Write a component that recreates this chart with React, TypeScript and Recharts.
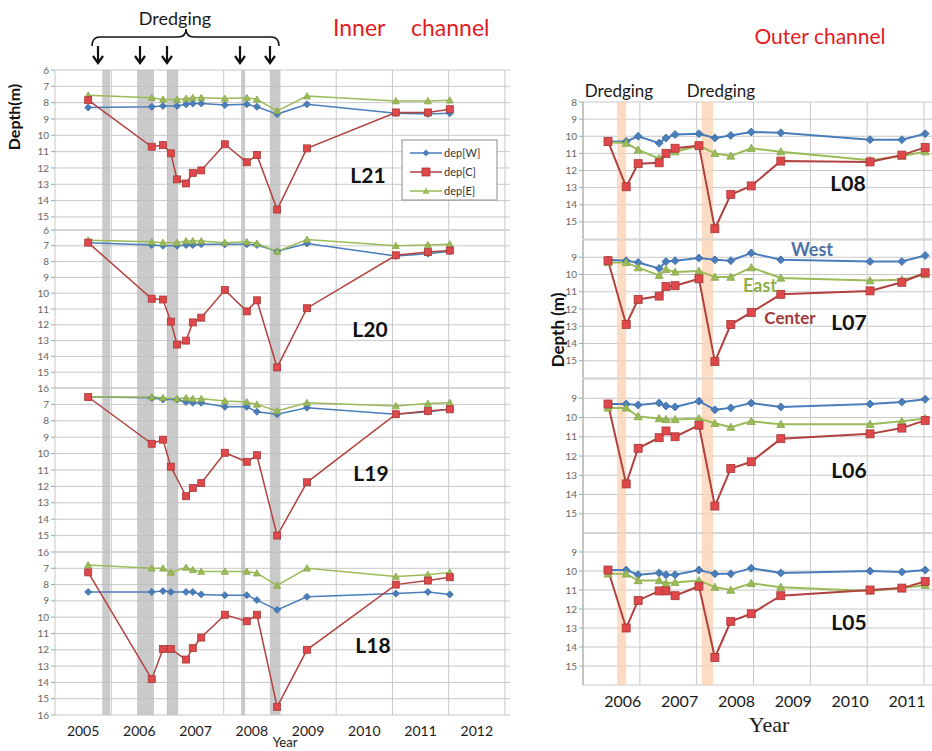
import {
  LineChart,
  Line,
  XAxis,
  YAxis,
  CartesianGrid,
  ReferenceArea,
} from "recharts";

// ---------------------------------------------------------------------------
// Survey dates (decimal years) and depths (m) per cross-section line
// ---------------------------------------------------------------------------
const innerDates = [
  2005.09, 2006.22, 2006.42, 2006.56, 2006.67, 2006.83, 2006.95, 2007.1,
  2007.52, 2007.91, 2008.09, 2008.45, 2008.98, 2010.56, 2011.13, 2011.52,
];

const l21W = [8.3, 8.25, 8.2, null, 8.2, 8.1, 8.05, 8.05, 8.15, 8.1, 8.25, 8.7, 8.1, 8.65, 8.7, 8.65];
const l21C = [7.85, 10.7, 10.6, 11.1, 12.7, 12.95, 12.3, 12.15, 10.55, 11.65, 11.2, 14.55, 10.8, 8.6, 8.6, 8.4];
const l21E = [7.55, 7.7, 7.8, null, 7.8, 7.75, 7.7, 7.7, 7.75, 7.7, 7.8, 8.5, 7.6, 7.9, 7.9, 7.85];

const l20W = [6.8, 6.95, 7.0, null, 7.0, 6.95, 6.95, 6.9, 6.9, 6.9, 6.95, 7.35, 6.85, 7.65, 7.5, 7.35];
const l20C = [6.8, 10.35, 10.4, 11.8, 13.25, 13.0, 11.85, 11.55, 9.8, 11.15, 10.45, 14.7, 10.95, 7.6, 7.4, 7.3];
const l20E = [6.65, 6.75, 6.8, null, 6.8, 6.7, 6.7, 6.7, 6.8, 6.75, 6.85, 7.35, 6.6, 7.0, 6.95, 6.9];

const l19W = [6.55, 6.6, 6.7, null, 6.7, 6.85, 6.9, 6.9, 7.15, 7.15, 7.45, 7.6, 7.2, 7.6, 7.45, 7.3];
const l19C = [6.55, 9.4, 9.15, 10.8, null, 12.6, 12.1, 11.8, 9.95, 10.5, 10.1, 15.0, 11.75, 7.6, 7.4, 7.3];
const l19E = [6.55, 6.55, 6.6, null, 6.65, 6.6, 6.65, 6.65, 6.8, 6.85, 7.0, 7.4, 6.9, 7.1, 6.95, 6.9];

const l18W = [8.45, 8.45, 8.4, 8.45, null, 8.45, 8.45, 8.6, 8.65, 8.65, 8.95, 9.55, 8.75, 8.55, 8.45, 8.6];
const l18C = [7.25, 13.8, 11.95, 11.95, null, 12.6, 11.9, 11.25, 9.85, 10.25, 9.85, 15.5, 12.0, 8.0, 7.75, 7.55];
const l18E = [6.8, 7.0, 7.0, 7.25, null, 6.95, 7.1, 7.2, 7.2, 7.2, 7.3, 8.05, 7.0, 7.5, 7.4, 7.25];

const outerDates = [
  2005.74, 2006.06, 2006.27, 2006.64, 2006.76, 2006.92, 2007.34,
  2007.62, 2007.9, 2008.26, 2008.78, 2010.35, 2010.91, 2011.32,
];

const l08W = [10.3, 10.3, 10.0, 10.4, 10.1, 9.9, 9.85, 10.1, 9.95, 9.75, 9.8, 10.2, 10.2, 9.85];
const l08C = [10.3, 12.95, 11.6, 11.55, 11.0, 10.7, 10.55, 15.4, 13.4, 12.9, 11.45, 11.5, 11.1, 10.65];
const l08E = [10.35, 10.4, 10.8, 11.3, 11.0, 10.9, 10.55, 11.0, 11.15, 10.7, 10.9, 11.4, 11.15, 10.9];

const l07W = [9.15, 9.2, 9.3, 9.65, 9.25, 9.2, 9.05, 9.15, 9.2, 8.75, 9.15, 9.25, 9.25, 8.9];
const l07C = [9.2, 12.9, 11.45, 11.25, 10.7, 10.65, 10.25, 15.05, 12.9, 12.2, 11.15, 10.95, 10.45, 9.9];
const l07E = [9.3, 9.3, 9.6, 10.05, 9.7, 9.85, 9.8, 10.15, 10.15, 9.6, 10.2, 10.35, 10.3, 10.0];

const l06W = [9.3, 9.3, 9.35, 9.25, 9.4, 9.45, 9.15, 9.6, 9.5, 9.25, 9.45, 9.3, 9.2, 9.05];
const l06C = [9.3, 13.45, 11.6, 11.05, 10.7, 11.0, 10.4, 14.6, 12.65, 12.3, 11.1, 10.85, 10.55, 10.15];
const l06E = [9.5, 9.5, 9.95, 10.05, 10.1, 10.1, 10.05, 10.3, 10.5, 10.2, 10.35, 10.35, 10.2, 10.05];

const l05W = [9.95, 9.95, 10.2, 10.1, 10.2, 10.2, 9.95, 10.15, 10.15, 9.85, 10.1, 10.0, 10.05, 9.95];
const l05C = [9.95, 13.0, 11.55, 11.05, 11.05, 11.3, 10.8, 14.55, 12.65, 12.25, 11.3, 11.0, 10.9, 10.55];
const l05E = [10.15, 10.15, 10.5, 10.5, 10.65, 10.6, 10.5, 10.85, 11.0, 10.65, 10.85, 11.05, 10.9, 10.75];

// dredging periods [start, end]
const innerDredging = [
  [2005.34, 2005.48],
  [2005.96, 2006.26],
  [2006.49, 2006.69],
  [2007.81, 2007.88],
  [2008.32, 2008.5],
];
const outerDredging = [
  [2005.9, 2006.06],
  [2007.39, 2007.59],
];

// axis ticks
const innerYears = [2005, 2006, 2007, 2008, 2009, 2010, 2011, 2012];
const outerYears = [2006, 2007, 2008, 2009, 2010, 2011];

// ---------------------------------------------------------------------------
// Colours / fonts
// ---------------------------------------------------------------------------
const BLUE = "#4a7ebb";
const RED_LINE = "#b0413e";
const RED_FILL = "#e0474a";
const GREEN = "#9bbb59";
const SANS = "Lato, 'Open Sans', sans-serif";

const buildRows = (dates: number[], w: (number | null)[], c: (number | null)[], e: (number | null)[]) =>
  dates.map((t, i) => ({ t, w: w[i], c: c[i], e: e[i] }));

// ---------------------------------------------------------------------------
// Markers
// ---------------------------------------------------------------------------
type Shape = "diamond" | "square" | "triangle";

function makeDot(shape: Shape, fill: string, stroke: string, r: number) {
  return (props: any) => {
    const { cx, cy, index, value } = props;
    const key = `dot-${shape}-${index}`;
    if (value == null || cx == null || cy == null || Number.isNaN(cy)) return <g key={key} />;
    if (shape === "diamond") {
      return (
        <path
          key={key}
          d={`M${cx},${cy - r} L${cx + r},${cy} L${cx},${cy + r} L${cx - r},${cy} Z`}
          fill={fill}
          stroke={stroke}
          strokeWidth={0.8}
        />
      );
    }
    if (shape === "square") {
      return (
        <rect
          key={key}
          x={cx - r}
          y={cy - r}
          width={r * 2}
          height={r * 2}
          fill={fill}
          stroke={stroke}
          strokeWidth={0.8}
        />
      );
    }
    return (
      <path
        key={key}
        d={`M${cx},${cy - r} L${cx + r},${cy + r * 0.8} L${cx - r},${cy + r * 0.8} Z`}
        fill={fill}
        stroke={stroke}
        strokeWidth={0.8}
      />
    );
  };
}

// ---------------------------------------------------------------------------
// One depth panel (W / C / E lines for a single section)
// ---------------------------------------------------------------------------
interface PanelProps {
  rows: any[];
  left: number;
  right: number;
  top: number;
  bottom: number;
  xDomain: [number, number];
  xTicks: number[];
  gridX: number[];
  yDomain: [number, number];
  yTicks: number[];
  bands: number[][];
  bandFill: string;
  bandOpacity: number;
  showX: boolean;
  xFont: number;
  lineWidth: number;
  markerR: number;
  axisLine: boolean;
}

function DepthPanel(p: PanelProps) {
  const yw = 40;
  const mr = 4;
  const mt = 8;
  const mb = 8;
  const xh = p.showX ? 36 : 0;
  const width = p.right - p.left + yw + mr;
  const height = p.bottom - p.top + mt + mb + xh;
  const [x0, x1] = p.xDomain;
  const [y0, y1] = p.yDomain;
  const gridY = Array.from(new Set([...p.yTicks, y0, y1]));

  return (
    <div style={{ position: "absolute", left: p.left - yw, top: p.top - mt }}>
      <LineChart
        width={width}
        height={height}
        data={p.rows}
        margin={{ top: mt, right: mr, bottom: mb, left: 0 }}
      >
        <CartesianGrid
          stroke="#c8c8c8"
          strokeWidth={1}
          verticalCoordinatesGenerator={({ offset }: any) =>
            p.gridX.map((v) => offset.left + ((v - x0) / (x1 - x0)) * offset.width)
          }
          horizontalCoordinatesGenerator={({ offset }: any) =>
            gridY.map((v) => offset.top + ((v - y0) / (y1 - y0)) * offset.height)
          }
        />
        <XAxis
          type="number"
          dataKey="t"
          domain={p.xDomain}
          ticks={p.xTicks}
          interval={0}
          allowDataOverflow
          hide={!p.showX}
          height={xh}
          axisLine={false}
          tickLine={false}
          tickMargin={5}
          tick={{ fontSize: p.xFont, fill: "#1a1a1a" }}
        />
        <YAxis
          type="number"
          reversed
          domain={p.yDomain}
          ticks={p.yTicks}
          interval={0}
          allowDataOverflow
          width={yw}
          tickSize={4}
          tickMargin={2}
          axisLine={p.axisLine ? { stroke: "#a6a6a6" } : false}
          tickLine={{ stroke: "#a6a6a6" }}
          tick={{ fontSize: 10, fill: "#666" }}
        />
        {p.bands.map(([a, b], i) => (
          <ReferenceArea
            key={`band-${i}`}
            x1={a}
            x2={b}
            fill={p.bandFill}
            fillOpacity={p.bandOpacity}
            stroke="none"
            ifOverflow="hidden"
          />
        ))}
        <Line
          dataKey="w"
          stroke={BLUE}
          strokeWidth={p.lineWidth}
          connectNulls
          isAnimationActive={false}
          dot={makeDot("diamond", BLUE, "#3a6aa5", p.markerR)}
          activeDot={false}
        />
        <Line
          dataKey="e"
          stroke={GREEN}
          strokeWidth={p.lineWidth}
          connectNulls
          isAnimationActive={false}
          dot={makeDot("triangle", GREEN, "#86a64a", p.markerR)}
          activeDot={false}
        />
        <Line
          dataKey="c"
          stroke={RED_LINE}
          strokeWidth={p.lineWidth}
          connectNulls
          isAnimationActive={false}
          dot={makeDot("square", RED_FILL, "#a53a37", p.markerR)}
          activeDot={false}
        />
      </LineChart>
    </div>
  );
}

// ---------------------------------------------------------------------------
// Layout
// ---------------------------------------------------------------------------
const innerX: [number, number] = [2004.5, 2012.59];
const innerGrid = [2004.5, 2005.5, 2006.5, 2007.5, 2008.5, 2009.5, 2010.5, 2011.5, 2012.5];
const outerX: [number, number] = [2005.3, 2011.44];
const outerGrid = [2005.3, 2006.3, 2007.3, 2008.3, 2009.3, 2010.3, 2011.3];

const innerPanels = [
  { rows: buildRows(innerDates, l21W, l21C, l21E), top: 70, bottom: 230, yDomain: [6, 15.8], yTicks: [6, 7, 8, 9, 10, 11, 12, 13, 14, 15] },
  { rows: buildRows(innerDates, l20W, l20C, l20E), top: 230, bottom: 388, yDomain: [6, 16], yTicks: [6, 7, 8, 9, 10, 11, 12, 13, 14, 15, 16] },
  { rows: buildRows(innerDates, l19W, l19C, l19E), top: 388, bottom: 552, yDomain: [6, 16], yTicks: [7, 8, 9, 10, 11, 12, 13, 14, 15, 16] },
  { rows: buildRows(innerDates, l18W, l18C, l18E), top: 552, bottom: 715, yDomain: [6, 16], yTicks: [7, 8, 9, 10, 11, 12, 13, 14, 15, 16] },
];

const outerPanels = [
  { rows: buildRows(outerDates, l08W, l08C, l08E), top: 102, bottom: 239, yTicks: [8, 9, 10, 11, 12, 13, 14, 15] },
  { rows: buildRows(outerDates, l07W, l07C, l07E), top: 240, bottom: 378, yTicks: [9, 10, 11, 12, 13, 14, 15] },
  { rows: buildRows(outerDates, l06W, l06C, l06E), top: 379, bottom: 533, yTicks: [9, 10, 11, 12, 13, 14, 15] },
  { rows: buildRows(outerDates, l05W, l05C, l05E), top: 533, bottom: 685, yTicks: [9, 10, 11, 12, 13, 14, 15] },
];

const arrowXs = [98, 140, 167, 240, 270];

export default function App() {
  return (
    <div
      style={{
        position: "absolute",
        left: 0,
        top: 0,
        width: 932,
        height: 751,
        overflow: "hidden",
        background: "#fff",
        fontFamily: SANS,
      }}
    >
      {innerPanels.map((s, i) => (
        <DepthPanel
          key={`in-${i}`}
          rows={s.rows}
          left={55}
          right={510}
          top={s.top}
          bottom={s.bottom}
          xDomain={innerX}
          xTicks={innerYears}
          gridX={innerGrid}
          yDomain={s.yDomain as [number, number]}
          yTicks={s.yTicks}
          bands={innerDredging}
          bandFill="#bdbdbd"
          bandOpacity={0.8}
          showX={i === innerPanels.length - 1}
          xFont={14}
          lineWidth={1.5}
          markerR={3.5}
          axisLine={false}
        />
      ))}
      {outerPanels.map((s, i) => (
        <DepthPanel
          key={`out-${i}`}
          rows={s.rows}
          left={583}
          right={932}
          top={s.top}
          bottom={s.bottom}
          xDomain={outerX}
          xTicks={outerYears}
          gridX={outerGrid}
          yDomain={[8, 16]}
          yTicks={s.yTicks}
          bands={outerDredging}
          bandFill="#fbd3b4"
          bandOpacity={0.8}
          showX={i === outerPanels.length - 1}
          xFont={16}
          lineWidth={2}
          markerR={4}
          axisLine
        />
      ))}

      {/* annotations */}
      <svg
        width={932}
        height={751}
        style={{ position: "absolute", left: 0, top: 0, pointerEvents: "none" }}
        fontFamily={SANS}
      >
        <text x={175} y={25} fontSize={18} textAnchor="middle" fill="#1a1a1a">
          Dredging
        </text>
        <path
          d="M92,46 Q92,37 100,37 L178,37 Q186,37 186,29 Q186,37 194,37 L271,37 Q279,37 279,46"
          fill="none"
          stroke="#111"
          strokeWidth={1.5}
        />
        {arrowXs.map((x) => (
          <g key={`arrow-${x}`} stroke="#111" strokeWidth={2.2} fill="none">
            <line x1={x} y1={46} x2={x} y2={63} />
            <path d={`M${x - 5},56 L${x},63 L${x + 5},56`} />
          </g>
        ))}

        <text x={333} y={36} fontSize={23} fill="#e31b23">Inner</text>
        <text x={411} y={36} fontSize={23} fill="#e31b23">channel</text>
        <text x={820} y={44} fontSize={21} fill="#e31b23" textAnchor="middle">Outer channel</text>

        <text x={619} y={97} fontSize={17} textAnchor="middle" fill="#1a1a1a">Dredging</text>
        <text x={721} y={97} fontSize={17} textAnchor="middle" fill="#1a1a1a">Dredging</text>

        {/* legend */}
        <rect x={402} y={140} width={95} height={60} fill="#fff" stroke="#8c8c8c" />
        <line x1={410} y1={153} x2={442} y2={153} stroke={BLUE} strokeWidth={1.5} />
        <path d="M426,149.5 L429.5,153 L426,156.5 L422.5,153 Z" fill={BLUE} />
        <text x={444} y={157} fontSize={11} fill="#333">dep[W]</text>
        <line x1={410} y1={172} x2={442} y2={172} stroke={RED_LINE} strokeWidth={1.5} />
        <rect x={422} y={168} width={8} height={8} fill={RED_FILL} stroke="#a53a37" strokeWidth={0.8} />
        <text x={444} y={176} fontSize={11} fill="#333">dep[C]</text>
        <line x1={410} y1={191} x2={442} y2={191} stroke={GREEN} strokeWidth={1.5} />
        <path d="M426,187.5 L429.5,193.8 L422.5,193.8 Z" fill={GREEN} />
        <text x={444} y={195} fontSize={11} fill="#333">dep[E]</text>

        {/* section names */}
        <g fontSize={21} fontWeight={700} fill="#111" textAnchor="middle">
          <text x={368} y={183}>L21</text>
          <text x={370} y={337}>L20</text>
          <text x={371} y={481}>L19</text>
          <text x={373} y={653}>L18</text>
          <text x={848} y={191}>L08</text>
          <text x={849} y={330}>L07</text>
          <text x={849} y={478}>L06</text>
          <text x={849} y={630}>L05</text>
        </g>
        <text x={812} y={256} fontSize={18} fontWeight={700} fill="#4f72a6" textAnchor="middle">West</text>
        <text x={760} y={292} fontSize={18} fontWeight={700} fill="#8fb04a" textAnchor="middle">East</text>
        <text x={790} y={324} fontSize={17} fontWeight={700} fill="#a33a3a" textAnchor="middle">Center</text>

        {/* axis titles */}
        <text
          x={0}
          y={0}
          fontSize={16}
          fontWeight={700}
          fill="#111"
          textAnchor="middle"
          transform="translate(20,117) rotate(-90)"
        >
          Depth(m)
        </text>
        <text
          x={0}
          y={0}
          fontSize={17}
          fontWeight={700}
          fill="#111"
          textAnchor="middle"
          transform="translate(564,330) rotate(-90)"
        >
          Depth (m)
        </text>
        <text x={285} y={747} fontSize={13} textAnchor="middle" fill="#1a1a1a">Year</text>
        <text
          x={769}
          y={732}
          fontSize={22}
          textAnchor="middle"
          fill="#1a1a1a"
          fontFamily="'Liberation Serif', 'DejaVu Serif', serif"
        >
          Year
        </text>
      </svg>
    </div>
  );
}
